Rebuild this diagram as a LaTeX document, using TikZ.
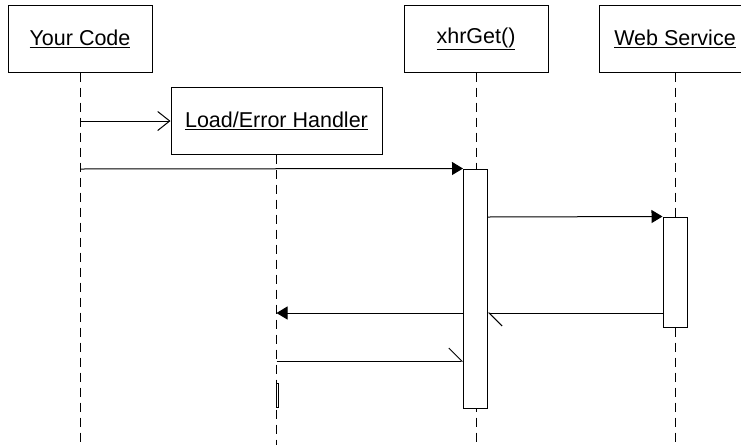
\documentclass[tikz,border=0pt]{standalone}
\usepackage{fontspec}
\setmainfont{Liberation Sans}
\usetikzlibrary{arrows.meta}
\begin{document}
\begin{tikzpicture}[x=1pt,y=-1pt,line width=1pt,
  obj/.style={draw,fill=white,minimum width=144pt,minimum height=67pt,inner sep=0pt,font=\fontsize{21.5}{25}\selectfont},
  act/.style={draw,fill=white,minimum width=24pt,inner sep=0pt},
  life/.style={line width=1pt,dash pattern=on 9pt off 6pt},
  sync/.style={-{Triangle[length=11pt,width=13pt]}},
  async/.style={-{Straight Barb[harpoon,length=13pt,width=26pt]}},
  call/.style={-{Straight Barb[length=12pt,width=19pt]}}]
\useasboundingbox (0,0) rectangle (741,445);
\node[obj] (code) at (80,38.5) {\underline{Your Code}};
\node[obj,minimum width=211pt] (handler) at (276.5,120.5) {\underline{Load/Error Handler}};
\node[obj] (xhr) at (476,38.5) {\underline{xhrGet()}};
\node[obj,minimum width=152pt] (ws) at (675,38.5) {\underline{Web Service}};
\coordinate (codeend) at (80,445);
\coordinate (handlerend) at (276.5,445);
\coordinate (xhrend) at (476,445);
\coordinate (wsend) at (675,445);
\draw[life] (code.south) -- (codeend);
\draw[life] (handler.south) -- (handlerend);
\draw[life] (xhr.south) -- (xhrend);
\draw[life] (ws.south) -- (wsend);
\node[act,minimum height=239pt] (xact) at (475.5,288.5) {};
\node[act,minimum height=110pt] (wsact) at (675,272) {};
\node[act,minimum width=2pt,minimum height=24pt,line width=0.8pt] (hact) at (277,395) {};
\draw[call] (code.south |- 0,121) -- (handler.west |- 0,121);
\draw[sync] (code.south |- 0,169) -- (xact.north west);
\draw[sync] (xact.east |- 0,217) -- (wsact.north west);
\draw[async] (wsact.west |- 0,313) -- (xact.east |- 0,313);
\draw[sync] (xact.west |- 0,313) -- (handler.south |- 0,313);
\draw[async] (handler.south |- 0,361) -- (xact.west |- 0,361);
\end{tikzpicture}
\end{document}
